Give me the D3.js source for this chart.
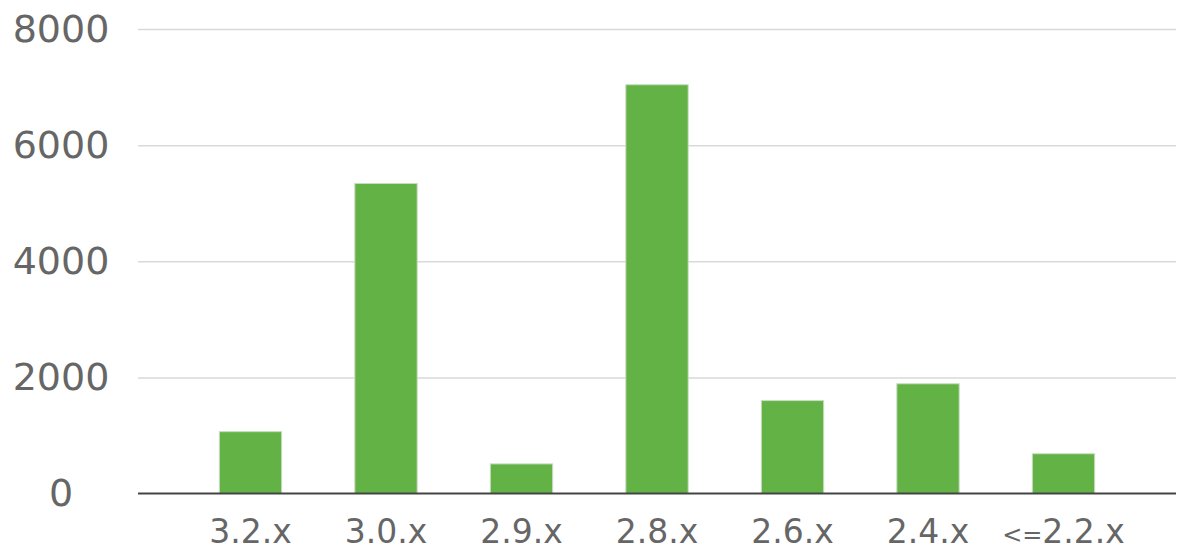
<!DOCTYPE html>
<html>
<head>
<meta charset="utf-8">
<script src="https://cdn.jsdelivr.net/npm/d3@7"></script>
<style>
  html, body { margin: 0; padding: 0; background: #fff; }
  svg { display: block; }
</style>
</head>
<body>
<svg id="chart"></svg>
<script>
const categories = ["3.2.x", "3.0.x", "2.9.x", "2.8.x", "2.6.x", "2.4.x", "<=2.2.x"];
const counts = [1065, 5340, 510, 7040, 1600, 1890, 685];
const yTicks = [0, 2000, 4000, 6000, 8000];

const width = 1188;
const height = 549;
const plot = { left: 138, right: 1176, top: 29, bottom: 493.5 };

const svg = d3.select("#chart")
  .attr("width", width)
  .attr("height", height)
  .attr("viewBox", `0 0 ${width} ${height}`);

const x = d3.scaleBand()
  .domain(categories)
  .range([182.75, 1131.25])
  .paddingInner(0.54)
  .paddingOuter(0.27);

const y = d3.scaleLinear()
  .domain([0, 8000])
  .range([plot.bottom, plot.top]);

// gridlines
svg.append("g")
  .attr("transform", `translate(${plot.left},0)`)
  .call(d3.axisLeft(y).tickValues(yTicks.slice(1)).tickSize(-(plot.right - plot.left)).tickFormat(""))
  .call(g => g.select(".domain").remove())
  .call(g => g.selectAll(".tick line").attr("stroke", "#d9d9d9").attr("stroke-width", 1.5));

// y labels (centred)
svg.append("g")
  .selectAll("text")
  .data(yTicks)
  .join("text")
  .attr("x", 61)
  .attr("y", d => y(d))
  .attr("dy", "0.34em")
  .attr("text-anchor", "middle")
  .attr("font-family", "DejaVu Sans, sans-serif")
  .attr("font-size", 38)
  .attr("fill", "#666")
  .text(d => d);

// bars
svg.append("g")
  .selectAll("rect")
  .data(categories.map((c, i) => ({ c, v: counts[i] })))
  .join("rect")
  .attr("x", d => x(d.c))
  .attr("width", x.bandwidth())
  .attr("y", d => y(d.v))
  .attr("height", d => y(0) - y(d.v))
  .attr("fill", "#62b246")
  .attr("stroke", "#c9dcc0")
  .attr("stroke-width", 1);

// x axis labels; the "<=" prefix is drawn smaller as in the source
svg.append("g")
  .selectAll("text")
  .data(categories)
  .join("text")
  .attr("x", d => x(d) + x.bandwidth() / 2)
  .attr("y", plot.bottom + 49)
  .attr("text-anchor", "middle")
  .attr("font-family", "DejaVu Sans, sans-serif")
  .attr("font-size", 33)
  .attr("fill", "#666")
  .each(function (d) {
    const t = d3.select(this);
    if (d.startsWith("<=")) {
      t.append("tspan").attr("font-size", 24).text("<=");
      t.append("tspan").text(d.slice(2));
    } else {
      t.text(d);
    }
  });

svg.append("line")
  .attr("x1", plot.left)
  .attr("x2", plot.right)
  .attr("y1", plot.bottom)
  .attr("y2", plot.bottom)
  .attr("stroke", "#444")
  .attr("stroke-width", 2);
</script>
</body>
</html>
